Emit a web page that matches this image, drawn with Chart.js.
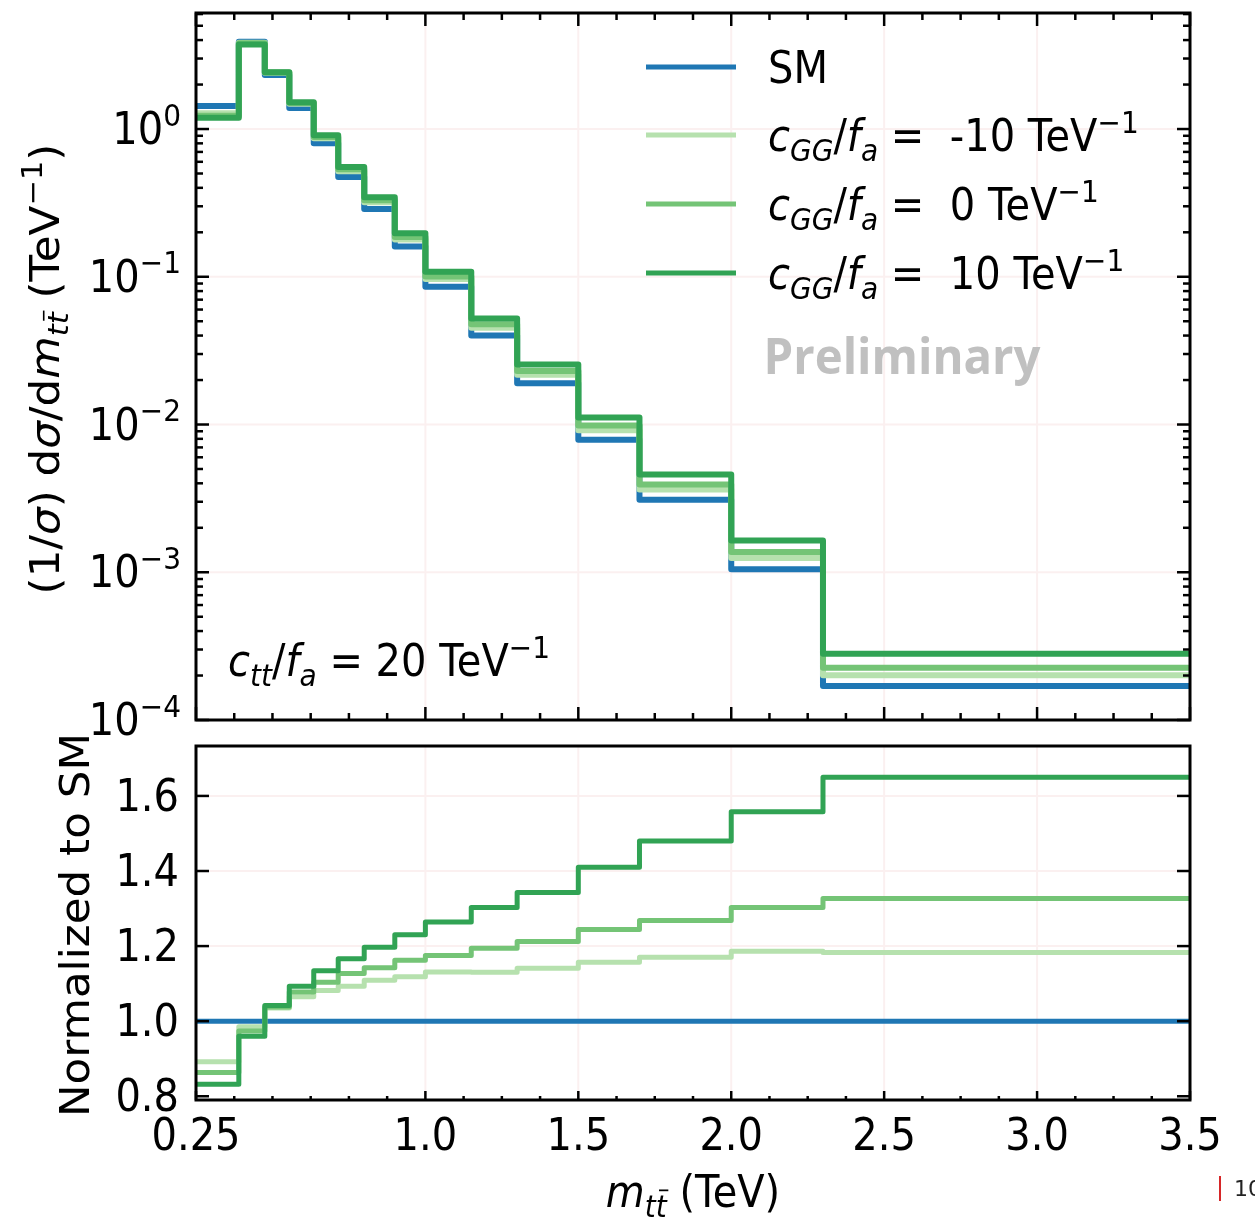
<!DOCTYPE html>
<html>
<head>
<meta charset="utf-8">
<script src="https://cdn.jsdelivr.net/npm/chart.js@4.4.1/dist/chart.umd.min.js"></script>
<style>
html,body{margin:0;padding:0;background:#fff;}
#wrap{position:relative;width:1255px;height:1225px;overflow:hidden;background:#fff;}
canvas{position:absolute;left:0;top:0;}
</style>
</head>
<body>
<div id="wrap">
  <canvas id="topChart" width="1255" height="1225"></canvas>
  <canvas id="botChart" width="1255" height="1225"></canvas>
</div>
<script>
// m_tt bin edges (TeV)
const edges = [0.25, 0.39, 0.475, 0.555, 0.635, 0.715, 0.8, 0.9, 1.0, 1.15, 1.3, 1.5, 1.7, 2.0, 2.3, 3.5];

// (1/sigma) dsigma/dm, TeV^-1
const smTop    = [1.43, 3.90, 2.32, 1.39, 0.800, 0.474, 0.288, 0.160, 0.0855, 0.0400, 0.0190, 0.00790, 0.00310, 0.00105, 0.000170];
const minusTop = [1.28, 3.84, 2.40, 1.48, 0.866, 0.518, 0.319, 0.179, 0.0967, 0.0452, 0.0217, 0.00914, 0.00363, 0.00125, 0.000201];
const zeroTop  = [1.23, 3.80, 2.41, 1.50, 0.883, 0.534, 0.329, 0.186, 0.1005, 0.0478, 0.0230, 0.00983, 0.00393, 0.00137, 0.000226];
const plusTop  = [1.19, 3.74, 2.42, 1.52, 0.907, 0.553, 0.345, 0.197, 0.108, 0.0521, 0.0255, 0.01114, 0.00459, 0.00164, 0.000281];

// ratio to SM
const smRatio    = [1, 1, 1, 1, 1, 1, 1, 1, 1, 1, 1, 1, 1, 1, 1];
const minusRatio = [0.892, 0.985, 1.035, 1.065, 1.082, 1.093, 1.109, 1.118, 1.131, 1.130, 1.141, 1.157, 1.170, 1.186, 1.183];
const zeroRatio  = [0.863, 0.974, 1.038, 1.078, 1.104, 1.127, 1.142, 1.162, 1.175, 1.194, 1.212, 1.244, 1.268, 1.303, 1.327];
const plusRatio  = [0.832, 0.960, 1.042, 1.093, 1.134, 1.166, 1.197, 1.230, 1.264, 1.303, 1.343, 1.410, 1.480, 1.558, 1.650];

const cggValues = ['-10', '0', '10'];

const xTicks = [0.25, 1.0, 1.5, 2.0, 2.5, 3.0, 3.5];
const xTickLabels = ['0.25', '1.0', '1.5', '2.0', '2.5', '3.0', '3.5'];
const yTopTicks = [1e-4, 1e-3, 1e-2, 1e-1, 1];
const yTopExp = ['\u22124', '\u22123', '\u22122', '\u22121', '0'];
const yBotTicks = [0.8, 1.0, 1.2, 1.4, 1.6];
const yBotLabels = ['0.8', '1.0', '1.2', '1.4', '1.6'];

const C_SM = '#1f77b4', C_L = '#b6e1ae', C_M = '#74c476', C_D = '#31a354';
const GRID = '#fbf0f0';
const FONT = '"DejaVu Sans", sans-serif';
const FS = 40, SY = 1.09;

function steps(vals){
  const pts = vals.map((v,i)=>({x:edges[i], y:v}));
  pts.push({x:edges[edges.length-1], y:vals[vals.length-1]});
  return pts;
}
function ds(vals, color, w, order){
  return {data:steps(vals), stepped:'before', borderColor:color, borderWidth:w, pointRadius:0,
    fill:false, order, borderJoinStyle:'round', borderCapStyle:'butt'};
}

// tiny mathtext-ish helper
const R = t=>({t}), I = t=>({t, it:true}), SB = (t,bar)=>({t, it:true, sub:true, bar}), SP = t=>({t, sup:true});
function pf(p, size){ return (p.it?'italic ':'') + (p.b?'bold ':'') + ((p.sub||p.sup)?size*0.7:size) + 'px ' + FONT; }
function mt(ctx, parts, x, y, size, align, rot, color){
  ctx.save();
  ctx.translate(x, y); ctx.scale(1, SY); if(rot) ctx.rotate(rot);
  let w = 0;
  const ws = parts.map(p=>{ ctx.font = pf(p,size); const m = ctx.measureText(p.t).width; w += m; return m; });
  let cx = align==='center' ? -w/2 : align==='right' ? -w : 0;
  ctx.fillStyle = color || '#000'; ctx.strokeStyle = color || '#000';
  ctx.textAlign = 'left'; ctx.textBaseline = 'alphabetic';
  parts.forEach((p,i)=>{
    ctx.font = pf(p,size);
    const dy = p.sub ? size*0.22 : p.sup ? -size*0.42 : 0;
    ctx.fillText(p.t, cx, dy);
    if(p.bar){
      const by = dy - size*0.7*0.86;
      ctx.lineWidth = 1.6;
      ctx.beginPath(); ctx.moveTo(cx + ws[i]*0.3, by); ctx.lineTo(cx + ws[i]*1.15, by); ctx.stroke();
    }
    cx += ws[i];
  });
  ctx.restore();
}
function seg(ctx, x1, y1, x2, y2){ ctx.beginPath(); ctx.moveTo(x1,y1); ctx.lineTo(x2,y2); ctx.stroke(); }

function axes(cfg){
  return {
    id:'axes_' + cfg.name,
    beforeDatasetsDraw(chart){
      const {ctx, chartArea:a, scales:{x, y}} = chart;
      ctx.save(); ctx.strokeStyle = GRID; ctx.lineWidth = 2;
      cfg.xGrid.forEach(v=>{ const px = x.getPixelForValue(v); seg(ctx, px, a.top, px, a.bottom); });
      cfg.yGrid.forEach(v=>{ const py = y.getPixelForValue(v); seg(ctx, a.left, py, a.right, py); });
      ctx.restore();
    },
    afterDatasetsDraw(chart){
      const {ctx, chartArea:a, scales:{x, y}} = chart;
      ctx.save(); ctx.strokeStyle = '#000'; ctx.lineWidth = 2.5;
      const xt = (vals, len)=>vals.forEach(v=>{
        const px = x.getPixelForValue(v);
        seg(ctx, px, a.bottom, px, a.bottom - len);
        if(cfg.topTicks) seg(ctx, px, a.top, px, a.top + cfg.topLen*len/cfg.xMajLen);
      });
      const yt = (vals, len)=>vals.forEach(v=>{
        const py = y.getPixelForValue(v);
        seg(ctx, a.left, py, a.left + len, py);
        seg(ctx, a.right, py, a.right - len, py);
      });
      xt(cfg.xMajor, cfg.xMajLen); xt(cfg.xMinor, cfg.xMinLen);
      yt(cfg.yMajor, 13); yt(cfg.yMinor, 7);
      ctx.lineWidth = 3;
      ctx.strokeRect(a.left, a.top, a.right - a.left, a.bottom - a.top);
      ctx.restore();
    },
    afterDraw(chart){ cfg.text(chart); }
  };
}

const xMinor = [];
for(let v = 0.375; v < 3.5; v += 0.125){ if(!xTicks.some(t=>Math.abs(t-v)<1e-6)) xMinor.push(v); }
const yTopMinor = [];
for(let d = -4; d <= 0; d++){ for(let k = 2; k <= 9; k++){ const v = k*Math.pow(10,d); if(v < 6.1) yTopMinor.push(v); } }

function topText(chart){
  const {ctx, scales:{y}} = chart;
  yTopTicks.forEach((v,i)=>{
    mt(ctx, [R('10'), SP(yTopExp[i])], 181, y.getPixelForValue(v) + 15, FS, 'right');
  });
  // y label
  mt(ctx, [R('(1/'), I('\u03c3'), R(') d'), I('\u03c3'), R('/d'), I('m'), SB('t'), SB('t',true), R(' (TeV'), SP('\u22121'), R(')')],
     59, 369, FS, 'center', -Math.PI/2);
  // legend
  const rows = [{c:C_SM, y:67, parts:[R('SM')]}].concat(cggValues.map((v,i)=>({
    c:[C_L, C_M, C_D][i], y:135 + i*69,
    parts:[I('c'), SB('GG'), R('/'), I('f'), SB('a'), R(' =  ' + v + ' TeV'), SP('\u22121')]
  })));
  rows.forEach(r=>{
    ctx.save(); ctx.strokeStyle = r.c; ctx.lineWidth = 5; seg(ctx, 646, r.y, 736, r.y); ctx.restore();
    mt(ctx, r.parts, 768, r.y + 16, FS, 'left');
  });
  // annotation
  mt(ctx, [I('c'), SB('tt'), R('/'), I('f'), SB('a'), R(' = 20 TeV'), SP('\u22121')], 228, 676, FS, 'left');
  // Preliminary
  ctx.save();
  ctx.font = 'bold 40px "Open Sans", "Noto Sans", sans-serif';
  const pw = ctx.measureText('Preliminary').width;
  const ps = 40*277/pw;
  ctx.font = 'bold ' + ps + 'px "Open Sans", "Noto Sans", sans-serif';
  ctx.fillStyle = '#c0c0c0'; ctx.textAlign = 'center'; ctx.textBaseline = 'middle';
  ctx.translate(902, 360); ctx.scale(1, 1.05); ctx.fillText('Preliminary', 0, 0);
  ctx.restore();
}

function botText(chart){
  const {ctx, scales:{x, y}} = chart;
  yBotTicks.forEach((v,i)=>{ mt(ctx, [R(yBotLabels[i])], 179, y.getPixelForValue(v) + 15, FS, 'right'); });
  xTicks.forEach((v,i)=>{ mt(ctx, [R(xTickLabels[i])], x.getPixelForValue(v), 1150, FS, 'center'); });
  mt(ctx, [R('Normalized to SM')], 89, 925, FS, 'center', -Math.PI/2);
  mt(ctx, [I('m'), SB('t'), SB('t',true), R(' (TeV)')], 693, 1207, FS, 'center');
  // page marker at the corner
  ctx.save(); ctx.strokeStyle = '#d62728'; ctx.lineWidth = 2; seg(ctx, 1220, 1176, 1220, 1201); ctx.restore();
  ctx.save(); ctx.font = '22px ' + FONT; ctx.fillStyle = '#222'; ctx.fillText('10', 1234, 1196); ctx.restore();
}

new Chart(document.getElementById('topChart'), {
  type:'line',
  data:{datasets:[ds(smTop, C_SM, 6, 3), ds(minusTop, C_L, 6, 2), ds(zeroTop, C_M, 6, 1), ds(plusTop, C_D, 6, 0)]},
  options:{
    responsive:false, animation:false, devicePixelRatio:1,
    layout:{padding:{left:196, right:65, top:13, bottom:505}},
    plugins:{legend:{display:false}, tooltip:{enabled:false}},
    scales:{
      x:{type:'linear', min:0.25, max:3.5, display:false},
      y:{type:'logarithmic', min:1e-4, max:6.1, display:false}
    }
  },
  plugins:[axes({name:'top', xGrid:[1.0,1.5,2.0,2.5,3.0], yGrid:[1e-3,1e-2,1e-1,1],
    xMajor:xTicks, xMinor, xMajLen:13, xMinLen:7, topTicks:true, topLen:13,
    yMajor:yTopTicks, yMinor:yTopMinor, text:topText})]
});

new Chart(document.getElementById('botChart'), {
  type:'line',
  data:{datasets:[ds(smRatio, C_SM, 5, 3), ds(minusRatio, C_L, 5, 2), ds(zeroRatio, C_M, 5, 1), ds(plusRatio, C_D, 5, 0)]},
  options:{
    responsive:false, animation:false, devicePixelRatio:1,
    layout:{padding:{left:196, right:65, top:746, bottom:125}},
    plugins:{legend:{display:false}, tooltip:{enabled:false}},
    scales:{
      x:{type:'linear', min:0.25, max:3.5, display:false},
      y:{type:'linear', min:0.79, max:1.733, display:false}
    }
  },
  plugins:[axes({name:'bot', xGrid:[1.0,1.5,2.0,2.5,3.0], yGrid:[1.2,1.4,1.6],
    xMajor:xTicks, xMinor, xMajLen:9, xMinLen:4, topTicks:false, topLen:0,
    yMajor:yBotTicks, yMinor:[], text:botText})]
});
</script>
</body>
</html>
